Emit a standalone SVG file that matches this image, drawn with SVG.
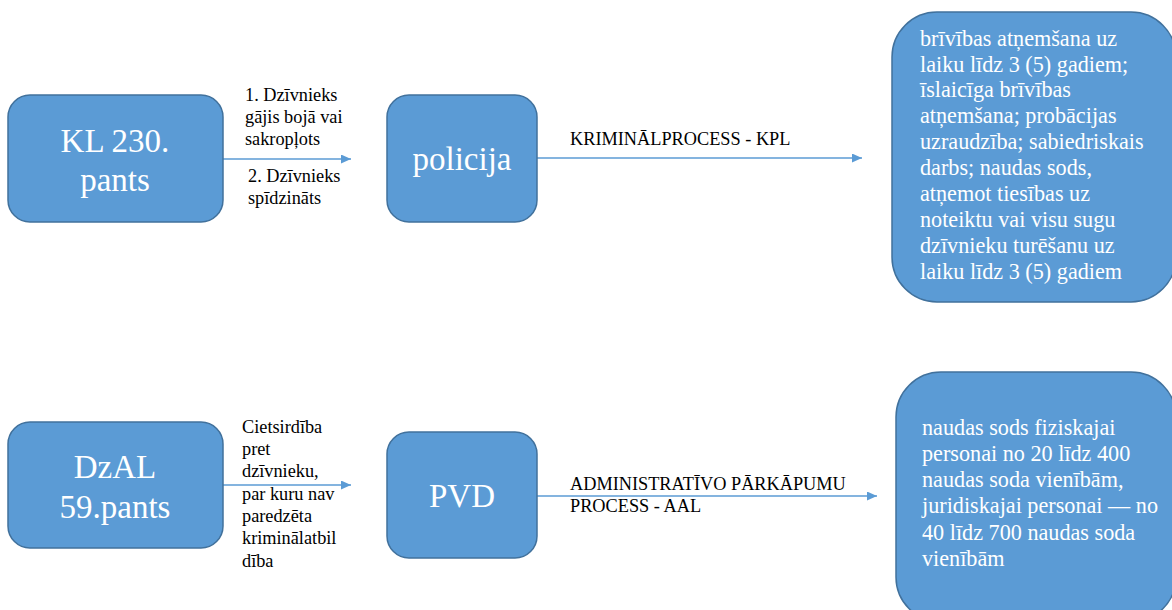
<svg xmlns="http://www.w3.org/2000/svg" width="1172" height="610" viewBox="0 0 1172 610">
<defs>
<style>
.box{fill:#5B9BD5;stroke:#41719C;stroke-width:1.5}
.big{font-family:"Liberation Serif","Times New Roman",serif;font-size:33px;fill:#fff;text-anchor:middle}
.res{font-family:"Liberation Serif","Times New Roman",serif;font-size:22.2px;fill:#fff}
.lbl{font-family:"Liberation Serif","Times New Roman",serif;font-size:18.3px;fill:#000}
.conn{stroke:#5B9BD5;stroke-width:1.3;fill:none;marker-end:url(#ah)}
</style>
<marker id="ah" viewBox="0 0 10 9" refX="10" refY="4.5" markerWidth="10" markerHeight="9" markerUnits="userSpaceOnUse" orient="auto">
<path d="M0,0 L10,4.5 L0,9 z" fill="#5B9BD5"/>
</marker>
</defs>
<rect width="1172" height="610" fill="#fff"/>
<g id="connectors">
<line class="conn" x1="223" y1="159" x2="351" y2="159"/>
<line class="conn" x1="537" y1="158" x2="862" y2="158"/>
<line class="conn" x1="223" y1="485" x2="351" y2="485"/>
<line class="conn" x1="537" y1="496" x2="877" y2="496"/>
<text class="lbl" x="245" y="101">1. Dzīvnieks</text>
<text class="lbl" x="245" y="123">gājis bojā vai</text>
<text class="lbl" x="245" y="145">sakropļots</text>
<text class="lbl" x="248" y="182">2. Dzīvnieks</text>
<text class="lbl" x="248" y="204">spīdzināts</text>
<text class="lbl" x="570" y="145">KRIMINĀLPROCESS - KPL</text>
<text class="lbl" x="242" y="433">Cietsirdība</text>
<text class="lbl" x="242" y="455">pret</text>
<text class="lbl" x="242" y="477">dzīvnieku,</text>
<text class="lbl" x="242" y="500">par kuru nav</text>
<text class="lbl" x="242" y="522">paredzēta</text>
<text class="lbl" x="242" y="544">kriminālatbil</text>
<text class="lbl" x="242" y="567">dība</text>
<text class="lbl" x="570" y="490">ADMINISTRATĪVO PĀRKĀPUMU</text>
<text class="lbl" x="570" y="512">PROCESS - AAL</text>
</g>
<g id="kl230">
<rect class="box" x="8" y="95" width="215" height="127" rx="22"/>
<text class="big" x="115" y="152">KL 230.</text>
<text class="big" x="115" y="191">pants</text>
</g>
<g id="policija">
<rect class="box" x="387" y="95" width="150" height="127" rx="22"/>
<text class="big" x="462" y="170">policija</text>
</g>
<g id="sods-kl">
<rect class="box" x="892" y="12" width="284" height="290" rx="45"/>
<text class="res" x="920" y="46">brīvības atņemšana uz</text>
<text class="res" x="920" y="72">laiku līdz 3 (5) gadiem;</text>
<text class="res" x="920" y="97">īslaicīga brīvības</text>
<text class="res" x="920" y="123">atņemšana; probācijas</text>
<text class="res" x="920" y="149">uzraudzība; sabiedriskais</text>
<text class="res" x="920" y="175">darbs; naudas sods,</text>
<text class="res" x="920" y="201">atņemot tiesības uz</text>
<text class="res" x="920" y="227">noteiktu vai visu sugu</text>
<text class="res" x="920" y="253">dzīvnieku turēšanu uz</text>
<text class="res" x="920" y="279">laiku līdz 3 (5) gadiem</text>
</g>
<g id="dzal59">
<rect class="box" x="8" y="422" width="215" height="126" rx="22"/>
<text class="big" x="115" y="478">DzAL</text>
<text class="big" x="115" y="518">59.pants</text>
</g>
<g id="pvd">
<rect class="box" x="387" y="432" width="150" height="126" rx="22"/>
<text class="big" x="462" y="507">PVD</text>
</g>
<g id="sods-aal">
<rect class="box" x="896" y="372" width="280" height="250" rx="45"/>
<text class="res" x="922" y="435">naudas sods fiziskajai</text>
<text class="res" x="922" y="461">personai no 20 līdz 400</text>
<text class="res" x="922" y="487">naudas soda vienībām,</text>
<text class="res" x="922" y="513">juridiskajai personai — no</text>
<text class="res" x="922" y="540">40 līdz 700 naudas soda</text>
<text class="res" x="922" y="566">vienībām</text>
</g>
</svg>
